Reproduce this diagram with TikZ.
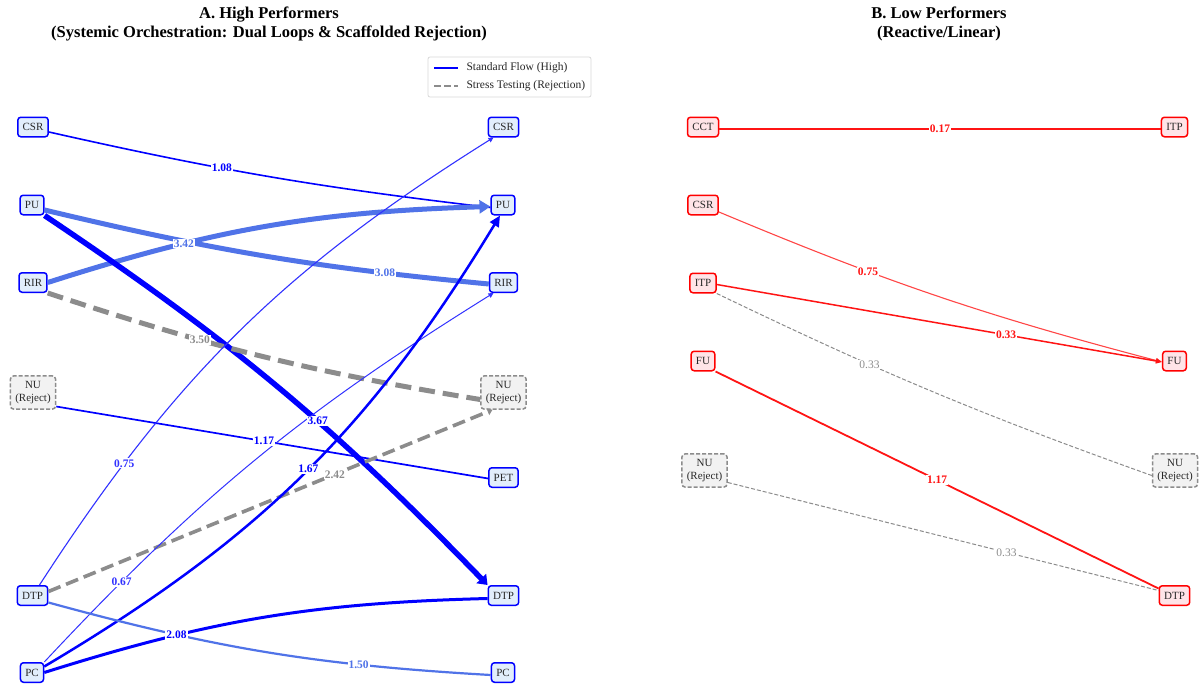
\documentclass[tikz,border=0pt]{standalone}
\usepackage{fontspec}
\setmainfont{Liberation Serif}
\usetikzlibrary{arrows.meta}
\definecolor{stdblue}{RGB}{0,0,255}
\definecolor{ltblue}{RGB}{80,115,232}
\definecolor{thinblue}{RGB}{50,50,255}
\definecolor{rejgray}{RGB}{140,140,140}
\definecolor{nodeblue}{RGB}{226,238,252}
\definecolor{nodepink}{RGB}{255,228,232}
\definecolor{nodegray}{RGB}{242,242,242}
\definecolor{redline}{RGB}{255,20,20}
\definecolor{lightred}{RGB}{255,70,70}
\definecolor{txt}{RGB}{40,40,40}
\begin{document}
\begin{tikzpicture}[x=1pt,y=-1pt,
 box/.style={rounded corners=3pt, line width=1.5pt, minimum height=19.5pt, inner xsep=4.8pt, inner ysep=2pt, font=\fontsize{11}{12.5}\selectfont, text=txt},
 nA/.style={box, draw=stdblue, fill=nodeblue},
 nB/.style={box, draw=red, fill=nodepink},
 nR/.style={box, draw=rejgray, fill=nodegray, dash pattern=on 4pt off 2pt, align=center, inner ysep=5.5pt},
 lbl/.style={fill=white, inner sep=1pt, font=\fontsize{11.5}{12}\selectfont\bfseries},
 lblr/.style={fill=white, inner sep=1pt, font=\fontsize{11.5}{12}\selectfont},
 ttl/.style={font=\fontsize{16.5}{19}\selectfont\bfseries, align=center},
 legt/.style={anchor=west, font=\fontsize{11.5}{13}\selectfont, text=txt},
 tipS/.style={-{Triangle[length=5pt,width=5pt]}},
]
\fill[white] (0,0) rectangle (1204,688);
\useasboundingbox (0,0) rectangle (1204,688);

% titles
\node[ttl] (tA) at (269,24) {A. High Performers\\(Systemic Orchestration: Dual Loops \& Scaffolded Rejection)};
\node[ttl] (tB) at (939,24) {B. Low Performers\\(Reactive/Linear)};

% legend
\node[draw=black!15, rounded corners=2pt, fill=white, line width=0.8pt, minimum width=163pt, minimum height=40pt, inner sep=0pt] (leg) at (509.5,77) {};
\coordinate (lg1a) at (434,68); \coordinate (lg1b) at (458,68);
\coordinate (lg2a) at (434,86); \coordinate (lg2b) at (458,86);
\draw[stdblue, line width=2pt] (lg1a) -- (lg1b);
\draw[rejgray, line width=2pt, dash pattern=on 7pt off 3pt] (lg2a) -- (lg2b);
\node[legt] (legt1) at (463,68) {Standard Flow (High)};
\node[legt] (legt2) at (463,86) {Stress Testing (Rejection)};

% panel A nodes
\node[nA] (aCSRl) at (33,127) {CSR};
\node[nA] (aPUl) at (32,205) {PU};
\node[nA] (aRIRl) at (33,282.5) {RIR};
\node[nR] (aNUl) at (33,392.5) {NU\\(Reject)};
\node[nA] (aDTPl) at (32.5,595.5) {DTP};
\node[nA] (aPCl) at (32,672.5) {PC};
\node[nA] (aCSRr) at (503.5,127) {CSR};
\node[nA] (aPUr) at (503,205) {PU};
\node[nA] (aRIRr) at (503.5,282.5) {RIR};
\node[nR] (aNUr) at (503.5,392.5) {NU\\(Reject)};
\node[nA] (aPETr) at (503.5,477.5) {PET};
\node[nA] (aDTPr) at (503.5,595.5) {DTP};
\node[nA] (aPCr) at (503,672.5) {PC};

% panel B nodes
\node[nB] (bCCTl) at (703,127) {CCT};
\node[nB] (bCSRl) at (703,205) {CSR};
\node[nB] (bITPl) at (703,283) {ITP};
\node[nB] (bFUl) at (703,361) {FU};
\node[nR] (bNUl) at (704.5,470.5) {NU\\(Reject)};
\node[nB] (bITPr) at (1174.5,127) {ITP};
\node[nB] (bFUr) at (1174.5,361) {FU};
\node[nR] (bNUr) at (1175,470.5) {NU\\(Reject)};
\node[nB] (bDTPr) at (1174.5,595.5) {DTP};

% panel A edges
\draw[stdblue, line width=1.6pt] ([yshift=-5pt]aCSRl.east) to[bend right=3] coordinate[pos=0.385](l1) ([yshift=-2.5pt]aPUr.west);
\draw[ltblue, line width=5pt] ([yshift=-5pt]aPUl.east) to[bend right=4] coordinate[pos=0.785](l2) ([yshift=-1.5pt]aRIRr.west);
\draw[ltblue, line width=5pt, -{Triangle[length=11pt,width=13pt]}] (aRIRl.east) to[bend left=8] coordinate[pos=0.3](l3) ([yshift=-1.5pt]aPUr.west);
\draw[stdblue, line width=5.5pt, -{Triangle[length=9pt,width=13pt]}] (aPUl.south east) to[bend left=6] coordinate[pos=0.6](l4) (aDTPr.north west);
\draw[rejgray, line width=5pt, dash pattern=on 16pt off 8pt] (aRIRl.south east) to[bend right=4.5] coordinate[pos=0.345](l5) ([yshift=-7pt]aNUr.west);
\draw[stdblue, line width=1.7pt] ([yshift=-14pt]aNUl.east) -- coordinate[pos=0.481](l6) ([yshift=-1pt]aPETr.west);
\draw[thinblue, line width=1.1pt, tipS] ([xshift=7pt]aDTPl.north) to[bend left=12.5] coordinate[pos=0.215](l7) ([xshift=-10pt]aCSRr.south);
\draw[rejgray, line width=3.6pt, dash pattern=on 13pt off 6pt, -{Triangle[length=5pt,width=7pt]}] ([yshift=4pt]aDTPl.east) -- coordinate[pos=0.645](l8) ([xshift=-11pt]aNUr.south);
\draw[thinblue, line width=1pt, tipS] (aPCl.north east) to[bend left=7.5] coordinate[pos=0.175](l9) ([xshift=-10pt]aRIRr.south);
\draw[stdblue, line width=2.5pt, -{Triangle[length=11pt,width=10pt]}] ([yshift=6pt]aPCl.east) to[bend right=14] coordinate[pos=0.51](l10) ([xshift=-3pt]aPUr.south);
\draw[stdblue, line width=3pt] (aPCl.east) to[bend left=8] coordinate[pos=0.29](l11) ([yshift=-3pt]aDTPr.west);
\draw[ltblue, line width=2.2pt] ([yshift=-7pt]aDTPl.east) to[bend right=6] coordinate[pos=0.72](l12) ([yshift=-2.5pt]aPCr.west);

% panel B edges
\draw[redline, line width=1.5pt] ([yshift=-2pt]bCCTl.east) -- coordinate[pos=0.5](m1) ([yshift=-2pt]bITPr.west);
\draw[lightred, line width=1.1pt, -{Triangle[length=6pt,width=5pt]}] ([yshift=-7pt]bCSRl.east) to[bend right=4] coordinate[pos=0.33](m2) ([yshift=-1pt]bFUr.west);
\draw[redline, line width=1.5pt, -{Triangle[length=6pt,width=5pt]}] ([yshift=-1.5pt]bITPl.east) -- coordinate[pos=0.65](m3) ([yshift=-1pt]bFUr.west);
\draw[rejgray, line width=1pt, dash pattern=on 4pt off 2pt] (bITPl.south east) to[bend right=3] coordinate[pos=0.345](m4) ([yshift=-5pt]bNUr.west);
\draw[redline, line width=1.8pt] (bFUl.south east) -- coordinate[pos=0.5](m5) ([yshift=7pt]bDTPr.west);
\draw[rejgray, line width=1pt, dash pattern=on 4pt off 2pt] ([yshift=-12pt]bNUl.east) -- coordinate[pos=0.647](m6) ([yshift=5pt]bDTPr.west);

% labels A
\node[lbl, text=stdblue] (t1) at (l1) {1.08};
\node[lbl, text=ltblue] (t2) at (l2) {3.08};
\node[lbl, text=ltblue] (t3) at (l3) {3.42};
\node[lbl, text=stdblue] (t4) at (l4) {3.67};
\node[lbl, text=rejgray] (t5) at (l5) {3.50};
\node[lbl, text=stdblue] (t6) at (l6) {1.17};
\node[lbl, text=thinblue] (t7) at (l7) {0.75};
\node[lbl, text=rejgray] (t8) at (l8) {2.42};
\node[lbl, text=thinblue] (t9) at (l9) {0.67};
\node[lbl, text=stdblue] (t10) at (l10) {1.67};
\node[lbl, text=stdblue] (t11) at (l11) {2.08};
\node[lbl, text=ltblue] (t12) at (l12) {1.50};
% labels B
\node[lbl, text=redline] (u1) at (m1) {0.17};
\node[lbl, text=redline] (u2) at (m2) {0.75};
\node[lbl, text=redline] (u3) at (m3) {0.33};
\node[lblr, text=rejgray] (u4) at (m4) {0.33};
\node[lbl, text=redline] (u5) at (m5) {1.17};
\node[lblr, text=rejgray] (u6) at (m6) {0.33};
\end{tikzpicture}
\end{document}
